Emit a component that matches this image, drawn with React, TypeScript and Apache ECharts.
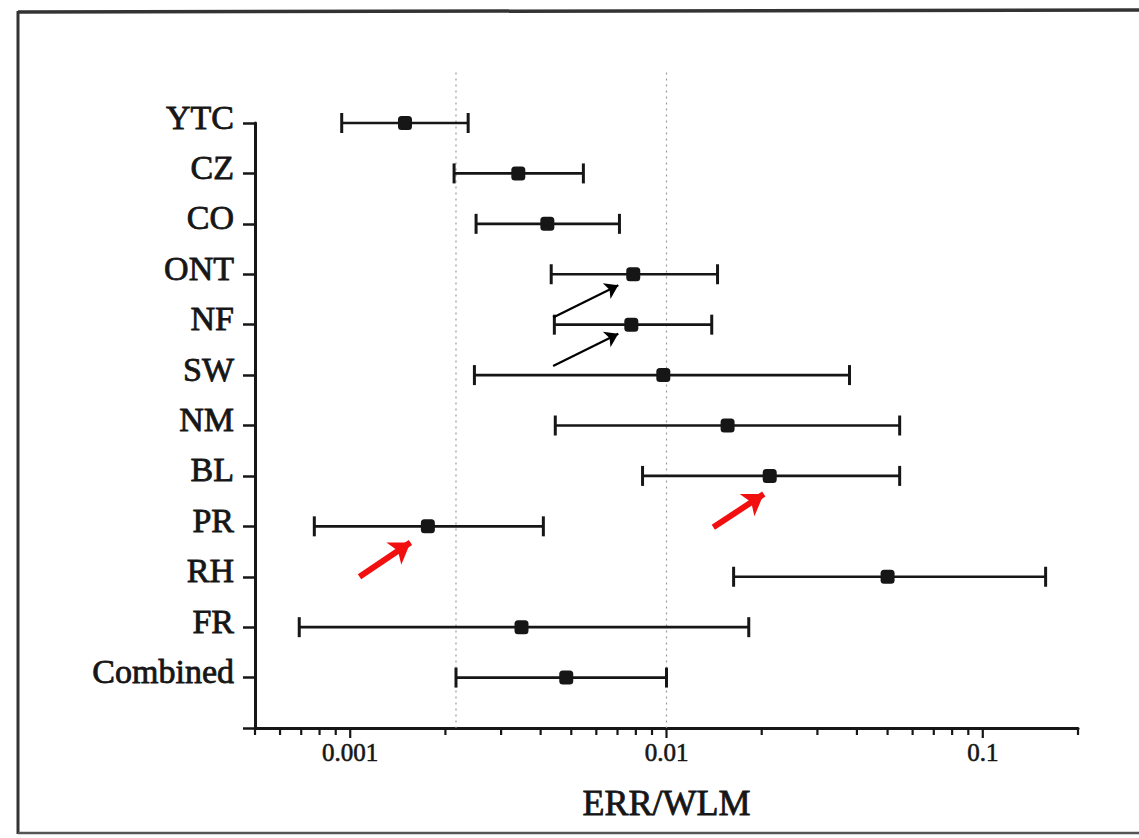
import React, { useEffect, useRef } from "react";
import * as echarts from "echarts";

const categories = ["YTC", "CZ", "CO", "ONT", "NF", "SW", "NM", "BL", "PR", "RH", "FR", "Combined"];
const estimates = [0.00149, 0.0034, 0.0042, 0.00785, 0.00774, 0.00977, 0.0156, 0.0212, 0.00176, 0.05, 0.00348, 0.00482];
const lowerCI = [0.00094, 0.00213, 0.0025, 0.00432, 0.00442, 0.00247, 0.00445, 0.0084, 0.00077, 0.0163, 0.00069, 0.00216];
const upperCI = [0.00236, 0.00546, 0.0071, 0.0145, 0.0139, 0.0379, 0.0546, 0.0546, 0.00408, 0.158, 0.0182, 0.01];
const referenceLines = [0.00216, 0.01];
const majorTickLabels = [0.001, 0.01, 0.1];
const minorTicks = [
  0.0005, 0.0006, 0.0007, 0.0008, 0.0009,
  0.002, 0.003, 0.004, 0.005, 0.006, 0.007, 0.008, 0.009,
  0.02, 0.03, 0.04, 0.05, 0.06, 0.07, 0.08, 0.09, 0.2,
];
// annotation arrows: [start [x, y], tip [x, y]] in data coordinates
const blackArrows = [
  [[0.00438, 3.86], [0.00704, 3.22]],
  [[0.00438, 4.82], [0.00704, 4.18]],
];
const redArrows = [
  [[0.00107, 9.0], [0.00155, 8.32]],
  [[0.01406, 8.02], [0.0203, 7.36]],
];

const X_MIN = 0.0005;
const X_MAX = 0.2;
const Y_MAX = categories.length;
const INK = "#161616";
const SERIF = "'Liberation Serif', 'DejaVu Serif', serif";
const TEXT_BASE = {
  fontFamily: SERIF,
  color: INK,
  fontWeight: "normal",
  textBorderColor: INK,
  textBorderWidth: 0.8,
};

export default function App() {
  const ref = useRef<HTMLDivElement>(null);

  useEffect(() => {
    if (!ref.current) return;
    const chart = echarts.init(ref.current, null, { renderer: "svg" });

    const tickSeries = (values: number[], len: number) => ({
      type: "custom",
      silent: true,
      clip: false,
      data: values.map((v) => [v, Y_MAX]),
      encode: { x: 0, y: 1 },
      renderItem: (params: any, api: any) => {
        const p = api.coord([api.value(0), api.value(1)]);
        return {
          type: "line",
          shape: { x1: p[0], y1: p[1], x2: p[0], y2: p[1] + len },
          style: { stroke: INK, lineWidth: 2.2 },
        };
      },
      z: 5,
    });

    const arrowLines = (arr: number[][][], color: string, width: number, size: number) =>
      arr.map((a) => [
        { coord: a[0], symbol: "none" },
        {
          coord: a[1],
          symbol: "arrow",
          symbolSize: size,
          lineStyle: { color, width, type: "solid" },
          itemStyle: { color },
        },
      ]);

    chart.setOption({
      animation: false,
      backgroundColor: "#ffffff",
      grid: { left: 255, top: 123, right: 61, bottom: 110, containLabel: false },
      xAxis: {
        type: "log",
        logBase: 10,
        min: X_MIN,
        max: X_MAX,
        axisLine: { show: true, onZero: false, lineStyle: { color: INK, width: 3 } },
        axisTick: { show: false },
        splitLine: { show: false },
        axisLabel: {
          ...TEXT_BASE,
          margin: 12,
          fontSize: 25,
          textBorderWidth: 0.6,
          formatter: (v: number) => {
            const m = majorTickLabels.find((t) => Math.abs(v - t) / t < 1e-6);
            return m === undefined ? "" : String(m);
          },
        },
        name: "ERR/WLM",
        nameLocation: "middle",
        nameGap: 57,
        nameTextStyle: { ...TEXT_BASE, fontSize: 36 },
      },
      yAxis: {
        type: "value",
        min: 0,
        max: Y_MAX,
        interval: 1,
        inverse: true,
        splitLine: { show: false },
        axisLine: { show: true, onZero: false, lineStyle: { color: INK, width: 3 } },
        axisTick: { show: true, length: 12, lineStyle: { color: INK, width: 2.5 } },
        axisLabel: {
          ...TEXT_BASE,
          margin: 21,
          fontSize: 34,
          verticalAlign: "bottom",
          lineHeight: 12,
          formatter: (v: number) => categories[v] ?? "",
        },
      },
      graphic: [
        { type: "line", shape: { x1: 18, y1: 12, x2: 1139, y2: 10 }, style: { stroke: "#333", lineWidth: 3.5 } },
        { type: "line", shape: { x1: 18, y1: 11, x2: 18, y2: 834 }, style: { stroke: "#333", lineWidth: 3 } },
        { type: "line", shape: { x1: 18, y1: 833, x2: 1139, y2: 833 }, style: { stroke: "#555", lineWidth: 2.5 } },
      ],
      series: [
        {
          type: "custom",
          silent: true,
          clip: false,
          data: referenceLines.map((v) => [v, -1, Y_MAX]),
          encode: { x: 0, y: [1, 2] },
          renderItem: (params: any, api: any) => {
            const a = api.coord([api.value(0), api.value(1)]);
            const b = api.coord([api.value(0), api.value(2)]);
            return {
              type: "line",
              shape: { x1: a[0], y1: a[1], x2: b[0], y2: b[1] },
              style: { stroke: "#9a9a9a", lineWidth: 1.2, lineDash: [2, 4] },
            };
          },
          z: 1,
        },
        {
          type: "custom",
          silent: true,
          clip: false,
          data: categories.map((c, i) => [lowerCI[i], upperCI[i], i]),
          encode: { x: [0, 1], y: 2 },
          renderItem: (params: any, api: any) => {
            const y = api.value(2);
            const l = api.coord([api.value(0), y]);
            const h = api.coord([api.value(1), y]);
            const cap = 10;
            const st = { stroke: INK, lineWidth: 2.6 };
            return {
              type: "group",
              children: [
                { type: "line", shape: { x1: l[0], y1: l[1], x2: h[0], y2: h[1] }, style: st },
                { type: "line", shape: { x1: l[0], y1: l[1] - cap, x2: l[0], y2: l[1] + cap }, style: { stroke: INK, lineWidth: 3 } },
                { type: "line", shape: { x1: h[0], y1: h[1] - cap, x2: h[0], y2: h[1] + cap }, style: { stroke: INK, lineWidth: 3 } },
              ],
            };
          },
          z: 2,
        },
        {
          type: "scatter",
          silent: true,
          symbol: "roundRect",
          symbolSize: 14,
          itemStyle: { color: INK, opacity: 1 },
          data: estimates.map((v, i) => [v, i]),
          z: 3,
          markLine: {
            silent: true,
            animation: false,
            label: { show: false },
            symbol: ["none", "arrow"],
            data: [
              ...arrowLines(blackArrows, "#000000", 2.2, 13),
              ...arrowLines(redArrows, "#f20f0f", 6, 20),
            ],
          },
        },
        tickSeries(majorTickLabels, 10),
        tickSeries(minorTicks, 7),
      ],
    });

    return () => chart.dispose();
  }, []);

  return (
    <div
      ref={ref}
      style={{ position: "absolute", left: 0, top: 0, width: 1139, height: 838, background: "#fff" }}
    />
  );
}
